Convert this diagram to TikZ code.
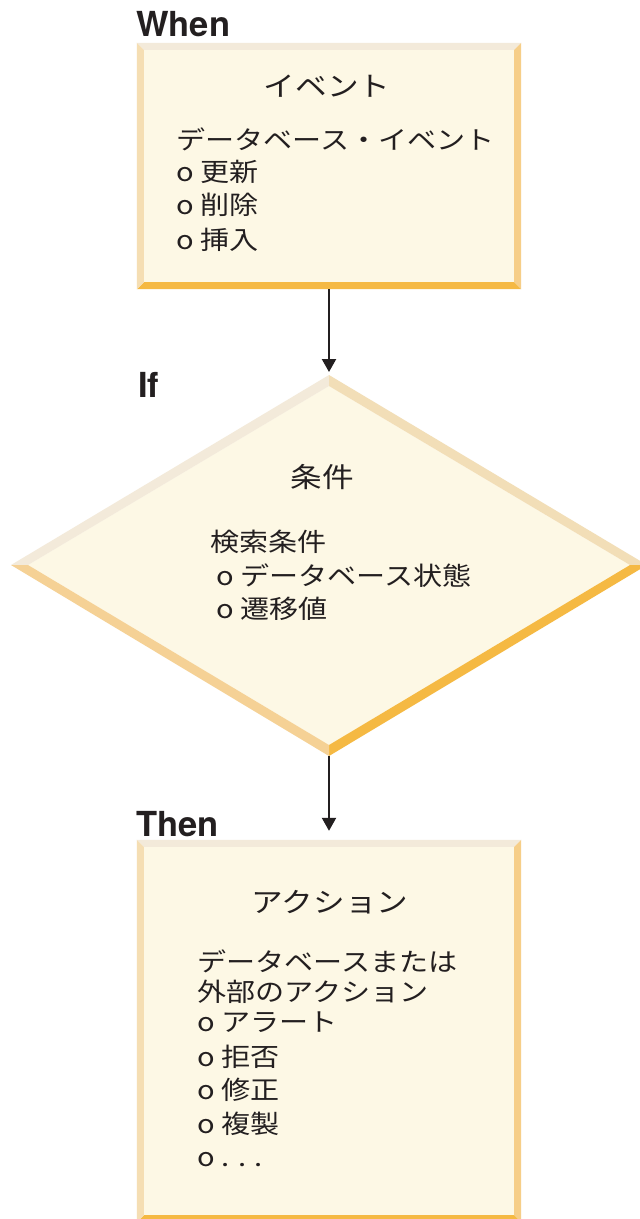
\documentclass[tikz,border=0pt]{standalone}
\usepackage{fontspec}
\usetikzlibrary{calc,arrows.meta}
\newfontfamily\jpfont[FakeStretch=1.14]{Noto Sans CJK JP}
\newfontfamily\jpttlfont[FakeStretch=1.15]{Noto Sans CJK JP}
\newfontfamily\labfont{TeX Gyre Heros}
\definecolor{ink}{HTML}{231F20}
\definecolor{boxfill}{HTML}{FDF8E5}
\definecolor{bvtop}{HTML}{F3EADA}
\definecolor{bvleft}{HTML}{F5DEB3}
\definecolor{bvright}{HTML}{F6CE88}
\definecolor{bvbottom}{HTML}{F5B943}
\definecolor{dmtr}{HTML}{F2DEB7}
\definecolor{dmbl}{HTML}{F5D195}
\tikzset{
  x=1pt, y=-1pt,
  body/.style={anchor=base west, inner sep=0pt, text=ink, font=\jpfont\fontsize{25.5}{30}\selectfont},
  ttl/.style={anchor=base, inner sep=0pt, text=ink, font=\jpttlfont\fontsize{27.5}{32}\selectfont},
  lab/.style={anchor=base west, inner sep=0pt, text=ink, font=\labfont\bfseries\fontsize{34.5}{38}\selectfont},
  frame/.style={rectangle, inner sep=0pt, minimum width=384pt},
  arr/.style={draw=ink, line width=2.2pt, -{Triangle[length=13pt,width=14pt]}},
}
\newcommand\bevelbox[2]{%
  \coordinate (#1-a) at ($(#1.north west)+(#2,#2)$);
  \coordinate (#1-b) at ($(#1.north east)+(-#2,#2)$);
  \coordinate (#1-c) at ($(#1.south east)+(-#2,-#2)$);
  \coordinate (#1-d) at ($(#1.south west)+(#2,-#2)$);
  \fill[boxfill] (#1-a) rectangle (#1-c);
  \fill[bvtop] (#1.north west) -- (#1.north east) -- (#1-b) -- (#1-a) -- cycle;
  \fill[bvright] (#1.north east) -- (#1.south east) -- (#1-c) -- (#1-b) -- cycle;
  \fill[bvbottom] (#1.south east) -- (#1.south west) -- (#1-d) -- (#1-c) -- cycle;
  \fill[bvleft] (#1.south west) -- (#1.north west) -- (#1-a) -- (#1-d) -- cycle;
}
\begin{document}
\begin{tikzpicture}
\useasboundingbox (0,0) rectangle (640,1219);
\fill[white] (0,0) rectangle (640,1219);

% labels
\node[lab] (lwhen) at (136,36) {When};
\node[lab] (lif) at (138,397) {If};
\node[lab] (lthen) at (136,836) {Then};

% event box
\node[frame, minimum height=246pt] (event) at (329,166) {};
\bevelbox{event}{7}
\node[ttl] (et) at (327,96) {イベント};
\node[body] (e1) at (176,149) {データベース・イベント};
\node[body] (e2) at (176,181) {o 更新};
\node[body] (e3) at (176,214) {o 削除};
\node[body] (e4) at (176,249) {o 挿入};

% condition diamond
\coordinate (cond-n) at (329,375);
\coordinate (cond-e) at (647,565);
\coordinate (cond-s) at (329,756);
\coordinate (cond-w) at (11,565);
\coordinate (cond-ni) at (329,386);
\coordinate (cond-ei) at (630,565);
\coordinate (cond-si) at (329,745);
\coordinate (cond-wi) at (28,565);
\fill[boxfill] (cond-ni) -- (cond-ei) -- (cond-si) -- (cond-wi) -- cycle;
\fill[bvtop] (cond-w) -- (cond-n) -- (cond-ni) -- (cond-wi) -- cycle;
\fill[dmtr] (cond-n) -- (cond-e) -- (cond-ei) -- (cond-ni) -- cycle;
\fill[bvbottom] (cond-e) -- (cond-s) -- (cond-si) -- (cond-ei) -- cycle;
\fill[dmbl] (cond-s) -- (cond-w) -- (cond-wi) -- (cond-si) -- cycle;
\node[ttl] (ct) at (322,487) {条件};
\node[body] (c1) at (210,551) {検索条件};
\node[body] (c2) at (216,585) {o データベース状態};
\node[body] (c3) at (216,618) {o 遷移値};

% action box
\node[frame, minimum height=382pt] (action) at (329,1031) {};
\bevelbox{action}{7}
\node[ttl] (at) at (330,912) {アクション};
\node[body] (a1) at (197,971) {データベースまたは};
\node[body] (a2) at (197,1001) {外部のアクション};
\node[body] (a3) at (197,1031) {o アラート};
\node[body] (a4) at (197,1066) {o 拒否};
\node[body] (a5) at (197,1099) {o 修正};
\node[body] (a6) at (197,1133) {o 複製};
\node[body] (a7) at (197,1166) {o . . .};

% connectors
\draw[arr, shorten >=3pt] (event.south) -- (cond-n);
\draw[arr, shorten >=9pt] (cond-s) -- (action.north);
\end{tikzpicture}
\end{document}
